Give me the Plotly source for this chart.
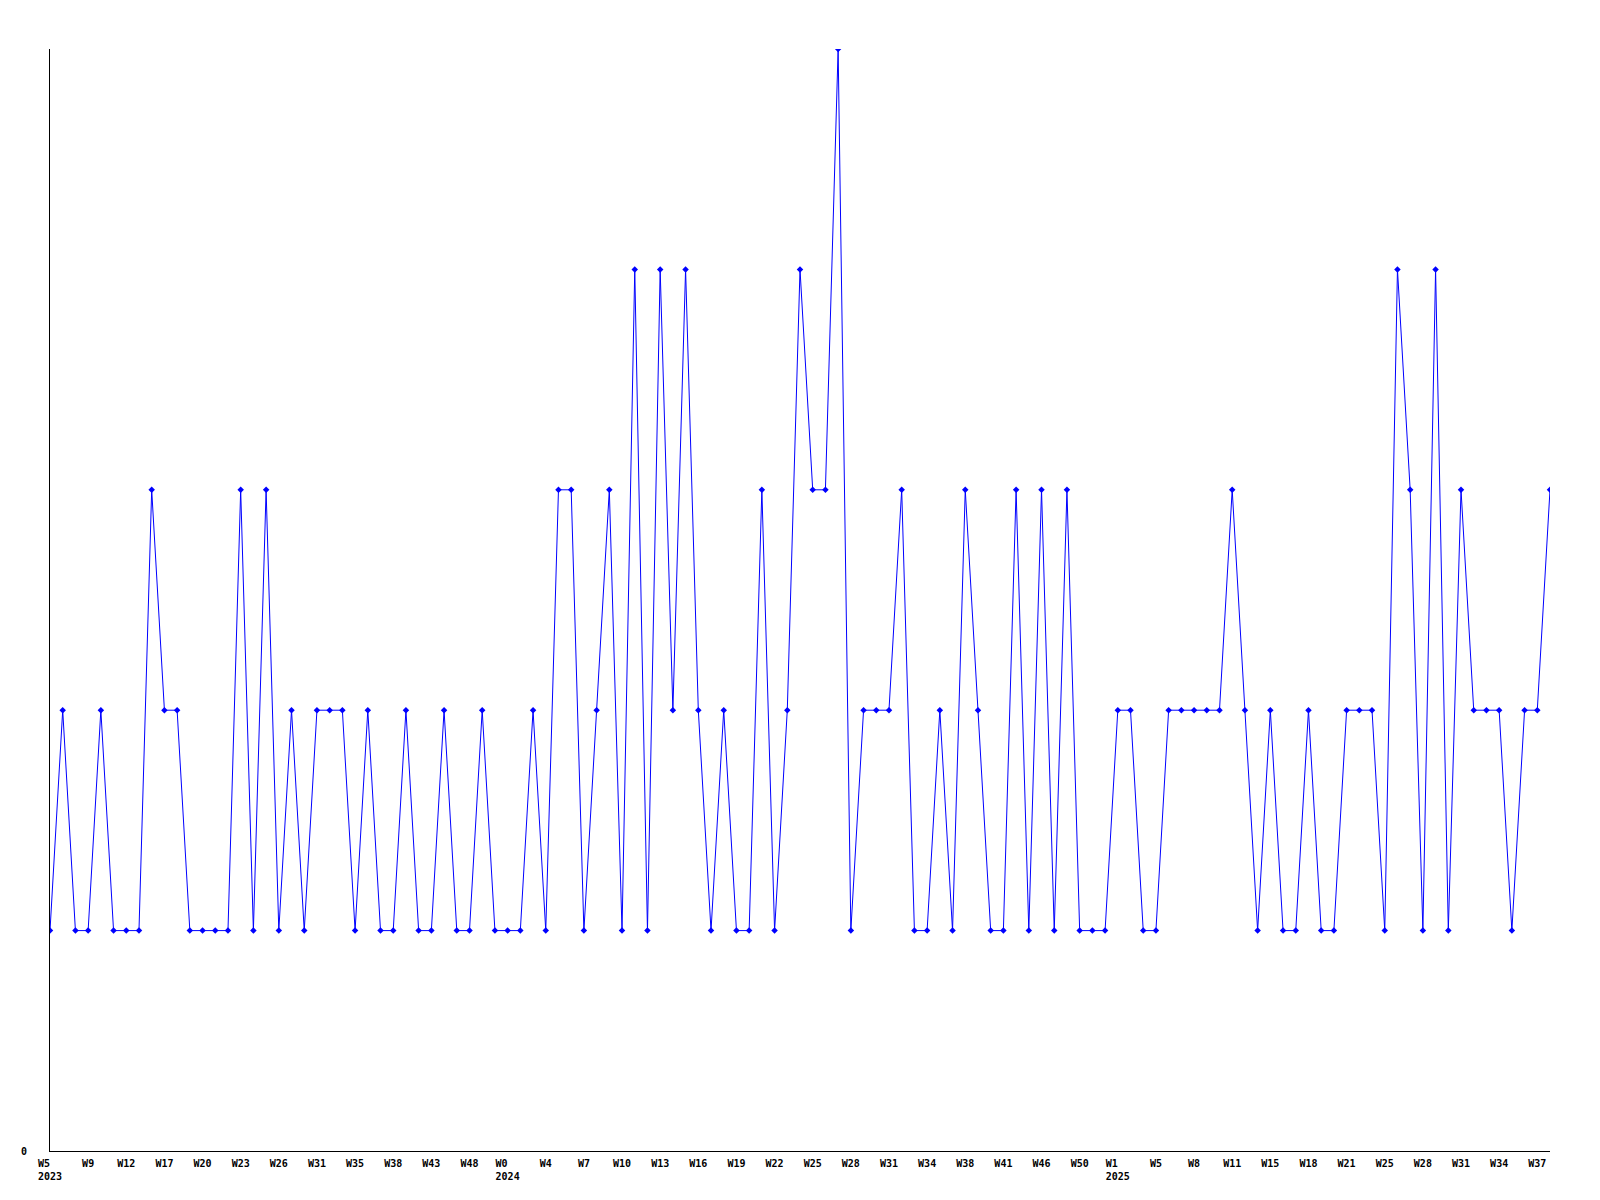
import plotly.graph_objects as go

# weekly counts, only weeks with activity are listed
years = [2023] * 36 + [2024] * 48 + [2025] * 35
weeks = [
    5, 6, 8, 9, 10, 11, 12, 14, 15, 17, 18, 19, 20, 21, 22, 23, 24, 25, 26, 28,
    29, 31, 32, 34, 35, 36, 37, 38, 40, 41, 43, 45, 46, 48, 50, 52,
    0, 1, 3, 4, 5, 6, 7, 8, 9, 10, 11, 12, 13, 14, 15, 16, 17, 18, 19, 20,
    21, 22, 23, 24, 25, 26, 27, 28, 29, 30, 31, 32, 33, 34, 35, 37, 38, 39, 40, 41,
    43, 44, 46, 47, 49, 50, 51, 52,
    1, 2, 4, 5, 6, 7, 8, 9, 10, 11, 13, 14, 15, 16, 17, 18, 19, 20, 21, 23,
    24, 25, 26, 27, 28, 29, 30, 31, 32, 33, 34, 35, 36, 37, 38,
]
counts = [
    1, 2, 1, 1, 2, 1, 1, 1, 3, 2, 2, 1, 1, 1, 1, 3, 1, 3, 1, 2,
    1, 2, 2, 2, 1, 2, 1, 1, 2, 1, 1, 2, 1, 1, 2, 1, 1, 1, 2, 1,
    3, 3, 1, 2, 3, 1, 4, 1, 4, 2, 4, 2, 1, 2, 1, 1, 3, 1, 2, 4,
    3, 3, 5, 1, 2, 2, 2, 3, 1, 1, 2, 1, 3, 2, 1, 1, 3, 1, 3, 1,
    3, 1, 1, 1, 2, 2, 1, 1, 2, 2, 2, 2, 2, 3, 2, 1, 2, 1, 1, 2,
    1, 1, 2, 2, 2, 1, 4, 3, 1, 4, 1, 3, 2, 2, 2, 1, 2, 2, 3,
]

cats = [f"{y}-W{w:02d}" for y, w in zip(years, weeks)]

# label every third week, year under the first label of each year
tick_vals = []
tick_text = []
seen_years = set()
for i in range(0, len(cats), 3):
    txt = f"W{weeks[i]}"
    if years[i] not in seen_years:
        seen_years.add(years[i])
        # pad so both lines line up on the left (monospace font)
        pad = "&nbsp;" * (4 - len(txt))
        txt += pad + f"<br>{years[i]}"
    tick_vals.append(cats[i])
    tick_text.append(f"<b>{txt}</b>")

fig = go.Figure()
fig.add_trace(go.Scatter(
    x=cats, y=counts, mode="lines+markers",
    line=dict(color="#0000ff", width=1),
    marker=dict(symbol="diamond", size=5, color="#0000ff"),
))

# page body has an 8px margin, so the margins are shifted to compensate
fig.update_layout(
    width=1600, height=1200,
    margin=dict(l=42, r=58, t=41, b=57),
    plot_bgcolor="white", paper_bgcolor="white",
    showlegend=False,
    font=dict(family="DejaVu Sans Mono", size=10, color="black"),
)
fig.update_xaxes(
    type="category", range=[0, len(cats) - 1],
    tickmode="array", tickvals=tick_vals, ticktext=tick_text,
    showline=True, linecolor="black", linewidth=1,
    showgrid=False, zeroline=False, ticks="", ticklabelstandoff=3,
)
fig.update_yaxes(
    range=[0, 5], tickmode="array", tickvals=[0], ticktext=["<b>0</b>"],
    showline=True, linecolor="black", linewidth=1,
    showgrid=False, zeroline=False, ticks="", ticklabelstandoff=20,
)

fig.write_html("out.html")
